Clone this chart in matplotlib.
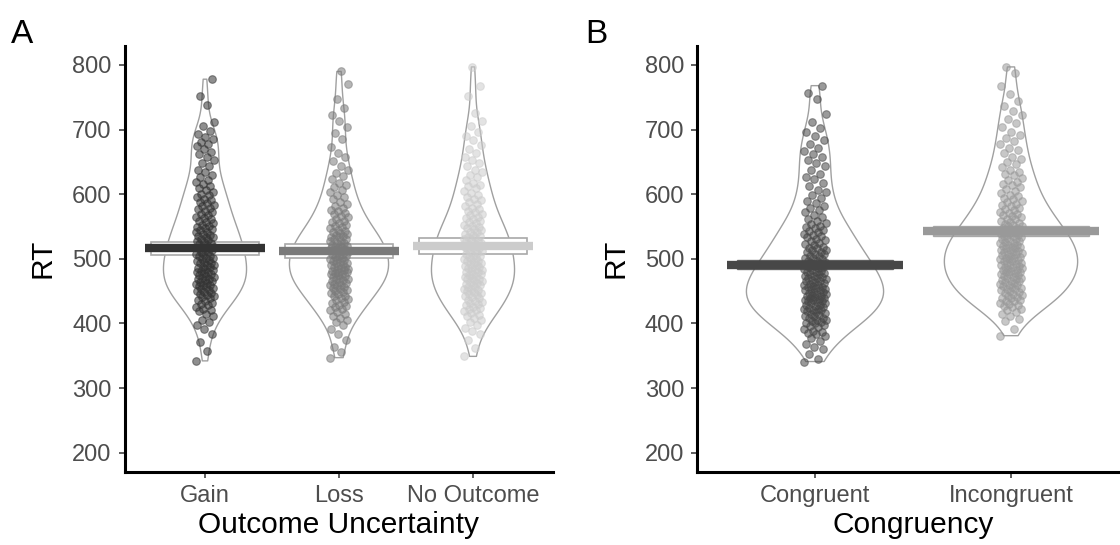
import numpy as np
import matplotlib
matplotlib.use("Agg")
import matplotlib.pyplot as plt
from matplotlib.patches import Rectangle

plt.rcParams['font.family'] = ['Liberation Sans', 'DejaVu Sans']

# ---------------- data ----------------
outcome_labels = ["Gain", "Loss", "No Outcome"]
congruency_labels = ["Congruent", "Incongruent"]

rt_gain = [342, 358, 371, 384, 391, 397,
           402, 406, 411, 415, 419,
           421, 423, 426, 428, 430, 432, 434, 436, 439,
           441, 442, 444, 445, 447, 448, 450, 451, 453, 455, 456, 458, 459,
           460, 461, 463, 464, 465, 467, 468, 469, 471, 472, 474, 475, 477, 478, 479,
           480, 481, 483, 484, 485, 487, 488, 490, 491, 493, 494, 495, 497, 498, 499,
           501, 502, 504, 505, 507, 508, 510, 511, 513, 514, 516, 517, 518, 519,
           521, 523, 524, 526, 528, 529, 531, 533, 534, 536, 537, 539,
           541, 542, 544, 546, 548, 549, 551, 553, 555, 557, 559,
           561, 563, 565, 568, 570, 572, 574, 577, 579,
           581, 583, 586, 588, 591, 593, 596, 598,
           601, 604, 607, 610, 613, 616, 619,
           622, 626, 630, 634, 638,
           643, 648, 653, 658,
           662, 666, 670, 674, 678,
           681, 685, 689, 693, 698,
           705, 712, 738, 752, 778]

rt_loss = [347, 356, 364, 375, 384, 391, 397,
           402, 405, 409, 412, 415, 418,
           421, 423, 425, 427, 429, 431, 433, 436, 438,
           440, 442, 443, 445, 447, 448, 450, 451, 453, 455, 456, 458, 459,
           460, 461, 463, 464, 465, 467, 468, 469, 471, 472, 473, 475, 476, 477, 478, 479,
           480, 481, 482, 483, 484, 486, 487, 488, 489, 490, 492, 493, 494, 495, 497, 498, 499,
           500, 501, 503, 504, 505, 507, 508, 509, 511, 512, 513, 515, 516, 517, 518, 519,
           520, 521, 522, 524, 525, 527, 528, 530, 531, 533, 534, 536, 537, 539,
           540, 541, 543, 545, 547, 549, 551, 553, 555, 557, 559,
           561, 564, 566, 569, 571, 574, 576, 579,
           582, 585, 588, 592, 595, 598,
           603, 607, 611, 614, 618,
           623, 628, 633, 637,
           644, 651, 657, 664, 673, 685, 694,
           704, 713, 722, 733, 748, 771, 790]

rt_none = [349, 362, 374, 384, 389, 393, 398,
           402, 405, 408, 411, 413, 416, 419,
           421, 423, 424, 426, 428, 430, 431, 433, 435, 437, 439,
           441, 442, 444, 445, 447, 448, 450, 451, 453, 454, 456, 457, 459,
           460, 461, 463, 464, 465, 467, 468, 469, 471, 472, 473, 475, 476, 477, 479,
           480, 481, 483, 484, 485, 487, 488, 489, 491, 492, 493, 495, 496, 497, 499,
           500, 502, 503, 505, 506, 508, 509, 511, 512, 514, 515, 517, 518, 519,
           521, 522, 524, 525, 527, 528, 530, 531, 533, 534, 536, 537, 539,
           541, 542, 544, 546, 548, 549, 551, 553, 555, 557, 559,
           561, 563, 565, 568, 570, 572, 574, 577, 579,
           582, 585, 588, 591, 593, 596, 599,
           602, 605, 609, 612, 615, 618,
           622, 626, 630, 634, 638,
           643, 648, 653, 658,
           664, 670, 676, 684, 690, 697,
           705, 714, 726, 752, 768, 797]

rt_congruent = [341, 345, 353, 361, 364, 368, 372, 377,
                381, 383, 385, 387, 389, 391, 394, 396, 398,
                400, 401, 402, 404, 405, 406, 408, 409, 411, 412, 413, 415, 416, 418, 419,
                420, 421, 422, 423, 424, 426, 427, 428, 429, 431, 432, 433, 434, 435, 436, 437, 438, 439,
                440, 441, 442, 443, 444, 445, 446, 447, 448, 449, 451, 452, 453, 454, 455, 456, 457, 458, 459,
                460, 461, 462, 464, 465, 466, 467, 468, 470, 471, 472, 473, 474, 476, 477, 478, 479,
                480, 481, 483, 484, 485, 487, 488, 489, 491, 492, 493, 495, 496, 497, 499,
                501, 502, 504, 505, 507, 508, 510, 511, 513, 514, 516, 517, 519,
                521, 523, 525, 527, 529, 531, 533, 535, 537, 539,
                541, 543, 545, 547, 549, 551, 554, 556, 558,
                562, 565, 568, 572, 575, 578,
                582, 586, 590, 594, 598,
                603, 607, 612, 617,
                623, 627, 632, 637,
                643, 648, 653, 658,
                662, 667, 672, 677,
                684, 690, 697, 703, 711, 724, 748, 756, 768]

rt_incongruent = [381, 392, 403, 407, 411, 414, 418,
                  421, 423, 425, 427, 429, 430, 432, 434, 435, 437, 439,
                  440, 441, 443, 444, 446, 447, 449, 450, 451, 453, 454, 455, 457, 458, 459,
                  460, 461, 462, 464, 465, 466, 467, 468, 470, 471, 472, 474, 475, 476, 477, 478, 479,
                  480, 481, 482, 483, 484, 486, 487, 488, 489, 490, 491, 492, 493, 494, 496, 497, 498, 499,
                  500, 501, 502, 503, 504, 506, 507, 508, 509, 510, 511, 512, 513, 514, 516, 517, 518, 519,
                  520, 521, 522, 524, 525, 526, 527, 528, 530, 531, 532, 534, 535, 536, 537, 538, 539,
                  541, 542, 544, 545, 547, 548, 550, 551, 553, 554, 556, 557, 559,
                  561, 562, 564, 566, 568, 569, 571, 573, 575, 577, 579,
                  581, 583, 585, 588, 590, 592, 594, 597, 599,
                  602, 605, 608, 611, 614, 616, 619,
                  622, 625, 629, 632, 635, 638,
                  642, 646, 650, 654, 658,
                  663, 668, 672, 677,
                  682, 687, 692, 697,
                  704, 710, 716, 723, 729, 736, 744, 755, 768, 788, 797]

# summary values: means and CI half-widths
outcome_means = [516, 512, 520]
outcome_ci = [10.5, 11, 12]
congruency_means = [491, 543]
congruency_ci = [7, 7]

y_ticks = [200, 300, 400, 500, 600, 700, 800]

# ---------------- styling ----------------
outcome_colors = ["#333333", "#7a7a7a", "#cccccc"]
congruency_colors = ["#474747", "#999999"]
outcome_violin_widths = [0.62, 0.74, 0.62]
congruency_violin_widths = [0.70, 0.68]

W, H = 1120, 545
fig = plt.figure(figsize=(W / 100, H / 100), dpi=100)

ax_a = fig.add_axes([124.6 / W, (H - 472) / H, (553.4 - 124.6) / W, 426.4 / H])
ax_b = fig.add_axes([697.4 / W, (H - 472) / H, (1128.6 - 697.4) / W, 426.4 / H])


def draw_panel(ax, groups, labels, colors, vwidths, means, cis, jitter, box_fill, xlabel):
    pos = np.arange(1, len(groups) + 1)
    parts = ax.violinplot([np.asarray(g, float) for g in groups], positions=pos,
                          widths=vwidths, showextrema=False, bw_method=0.25)
    for body in parts['bodies']:
        body.set_facecolor('none')
        body.set_edgecolor('#a0a0a0')
        body.set_linewidth(1.0)
        body.set_alpha(1)
        body.set_zorder(1)
    for i, (g, c) in enumerate(zip(groups, colors)):
        x = pos[i]
        # CI box
        if box_fill:
            ax.add_patch(Rectangle((x - 0.4, means[i] - cis[i]), 0.8, 2 * cis[i],
                                   facecolor=c, edgecolor=c, lw=1.0, alpha=0.75, zorder=2))
        else:
            ax.add_patch(Rectangle((x - 0.4, means[i] - cis[i]), 0.8, 2 * cis[i],
                                   facecolor='white', edgecolor='#a8a8a8', lw=1.2, zorder=2))
        # mean line
        ax.hlines(means[i], x - 0.45, x + 0.45, colors=c, lw=6, zorder=3,
                  capstyle='butt')
        # jittered points
        n = len(g)
        offs = ((np.arange(n) * 0.6180339887) % 1.0 - 0.5) * 2 * jitter
        ax.scatter(x + offs, g, s=30, facecolor=c, edgecolor=c, alpha=0.55,
                   linewidths=0.8, zorder=4)
    ax.set_xlim(0.4, len(groups) + 0.6)
    ax.set_ylim(170, 830)
    ax.set_xticks(pos)
    ax.set_xticklabels(labels)
    ax.set_yticks(y_ticks)
    for s in ['top', 'right']:
        ax.spines[s].set_visible(False)
    for s in ['left', 'bottom']:
        ax.spines[s].set_linewidth(2.2)
        ax.spines[s].set_color('black')
    ax.tick_params(axis='both', length=4.5, width=1.1, color='#333333',
                   labelsize=17, labelcolor='#4d4d4d', pad=5)
    ax.set_ylabel('RT', fontsize=21.5, labelpad=11)
    ax.set_xlabel(xlabel, fontsize=21.5, labelpad=3)


draw_panel(ax_a, [rt_gain, rt_loss, rt_none], outcome_labels, outcome_colors,
           outcome_violin_widths, outcome_means, outcome_ci, 0.07, False,
           'Outcome Uncertainty')
draw_panel(ax_b, [rt_congruent, rt_incongruent], congruency_labels, congruency_colors,
           congruency_violin_widths, congruency_means, congruency_ci, 0.058, True,
           'Congruency')

fig.text(11 / W, 1 - 43 / H, 'A', fontsize=24, va='baseline', ha='left')
fig.text(585 / W, 1 - 43 / H, 'B', fontsize=24, va='baseline', ha='left')

fig.savefig('out.png', dpi=100)
